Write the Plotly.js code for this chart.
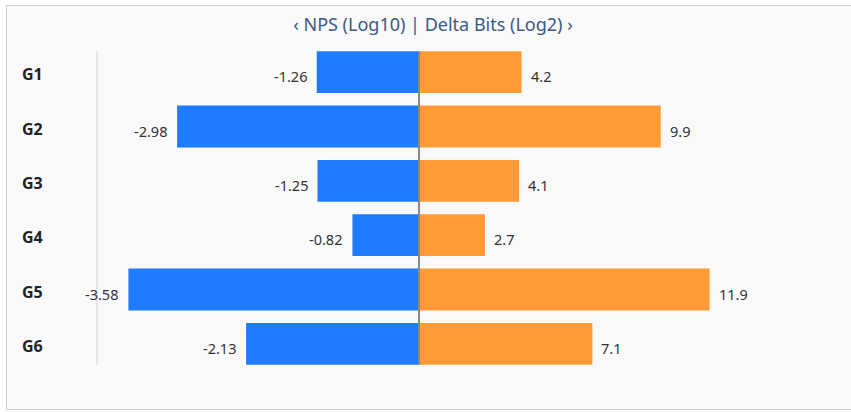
<!DOCTYPE html>
<html>
<head>
<meta charset="utf-8">
<script src="https://cdn.plot.ly/plotly-3.0.1.min.js"></script>
<style>
  html, body { margin: 0; padding: 0; background: #ffffff; overflow: hidden; width: 851px; height: 412px; }
  #frame { position: absolute; left: 6px; top: 5px; width: 846px; height: 403px; border: 1px solid #cfcfcf; background: #f9f9f9; }
  #chart { width: 846px; height: 403px; }
</style>
</head>
<body>
<div id="frame"><div id="chart"></div></div>
<script>
// ---- data ----
const groups = ["G1", "G2", "G3", "G4", "G5", "G6"];
const npsLog10 = [-1.26, -2.98, -1.25, -0.82, -3.58, -2.13];
const deltaBitsLog2 = [4.2, 9.9, 4.1, 2.7, 11.9, 7.1];
const titleText = "\u2039 NPS (Log10) | Delta Bits (Log2) \u203A";

const FONT = "Noto Sans, Open Sans, sans-serif";
const leftMax = Math.max(...npsLog10.map(Math.abs)) * 1.108;
const rightMax = Math.max(...deltaBitsLog2) * 1.108;
const bargap = 0.23;

const traces = [
  {
    type: "bar", orientation: "h", x: npsLog10, y: groups,
    xaxis: "x", yaxis: "y",
    marker: { color: "#1f7bff" }, hoverinfo: "x+y", showlegend: false
  },
  {
    type: "bar", orientation: "h", x: deltaBitsLog2, y: groups,
    xaxis: "x2", yaxis: "y",
    marker: { color: "#ff9a36" }, hoverinfo: "x+y", showlegend: false
  }
];

const annotations = [];
groups.forEach((g, i) => {
  annotations.push({
    x: 0, y: g, xref: "paper", yref: "y", text: "<b>" + g + "</b>",
    showarrow: false, xanchor: "right", yanchor: "middle", xshift: -52, yshift: -2,
    font: { family: FONT, size: 16, color: "#222222" }
  });
  annotations.push({
    x: npsLog10[i], y: g, xref: "x", yref: "y", text: String(npsLog10[i]),
    showarrow: false, xanchor: "right", yanchor: "middle", xshift: -8, yshift: -4,
    font: { family: FONT, size: 14.5, color: "#333333" }
  });
  annotations.push({
    x: deltaBitsLog2[i], y: g, xref: "x2", yref: "y", text: String(deltaBitsLog2[i]),
    showarrow: false, xanchor: "left", yanchor: "middle", xshift: 7, yshift: -4,
    font: { family: FONT, size: 14.5, color: "#333333" }
  });
});

const yTop = -0.5 + bargap / 2;
const yBot = groups.length - 0.5 - bargap / 2;

const layout = {
  width: 846, height: 403,
  margin: { l: 90, r: 112, t: 39, b: 38, pad: 0 },
  paper_bgcolor: "rgba(0,0,0,0)", plot_bgcolor: "rgba(0,0,0,0)",
  font: { family: FONT, color: "#333333" },
  title: {
    text: titleText, x: 426 / 846, xref: "container", xanchor: "center",
    y: 1 - 19 / 403, yref: "container", yanchor: "middle",
    font: { family: FONT, size: 18, color: "#3b5a85" }
  },
  bargap: bargap,
  xaxis: { domain: [0, 0.5], range: [-leftMax, 0], visible: false, fixedrange: true },
  xaxis2: { domain: [0.5, 1], range: [0, rightMax], visible: false, fixedrange: true, anchor: "y" },
  yaxis: {
    type: "category", autorange: "reversed", showgrid: false, zeroline: false, showline: false,
    ticks: "", showticklabels: false
  },
  shapes: [
    { type: "line", xref: "paper", yref: "y", x0: 0, x1: 0, y0: yTop, y1: yBot,
      line: { color: "#e3e3e3", width: 2 } },
    { type: "line", xref: "paper", yref: "y", x0: 0.5, x1: 0.5, y0: yTop, y1: yBot,
      line: { color: "#888888", width: 2 }, layer: "above" }
  ],
  annotations: annotations
};

Plotly.newPlot("chart", traces, layout, { displayModeBar: false, staticPlot: true });
</script>
</body>
</html>
